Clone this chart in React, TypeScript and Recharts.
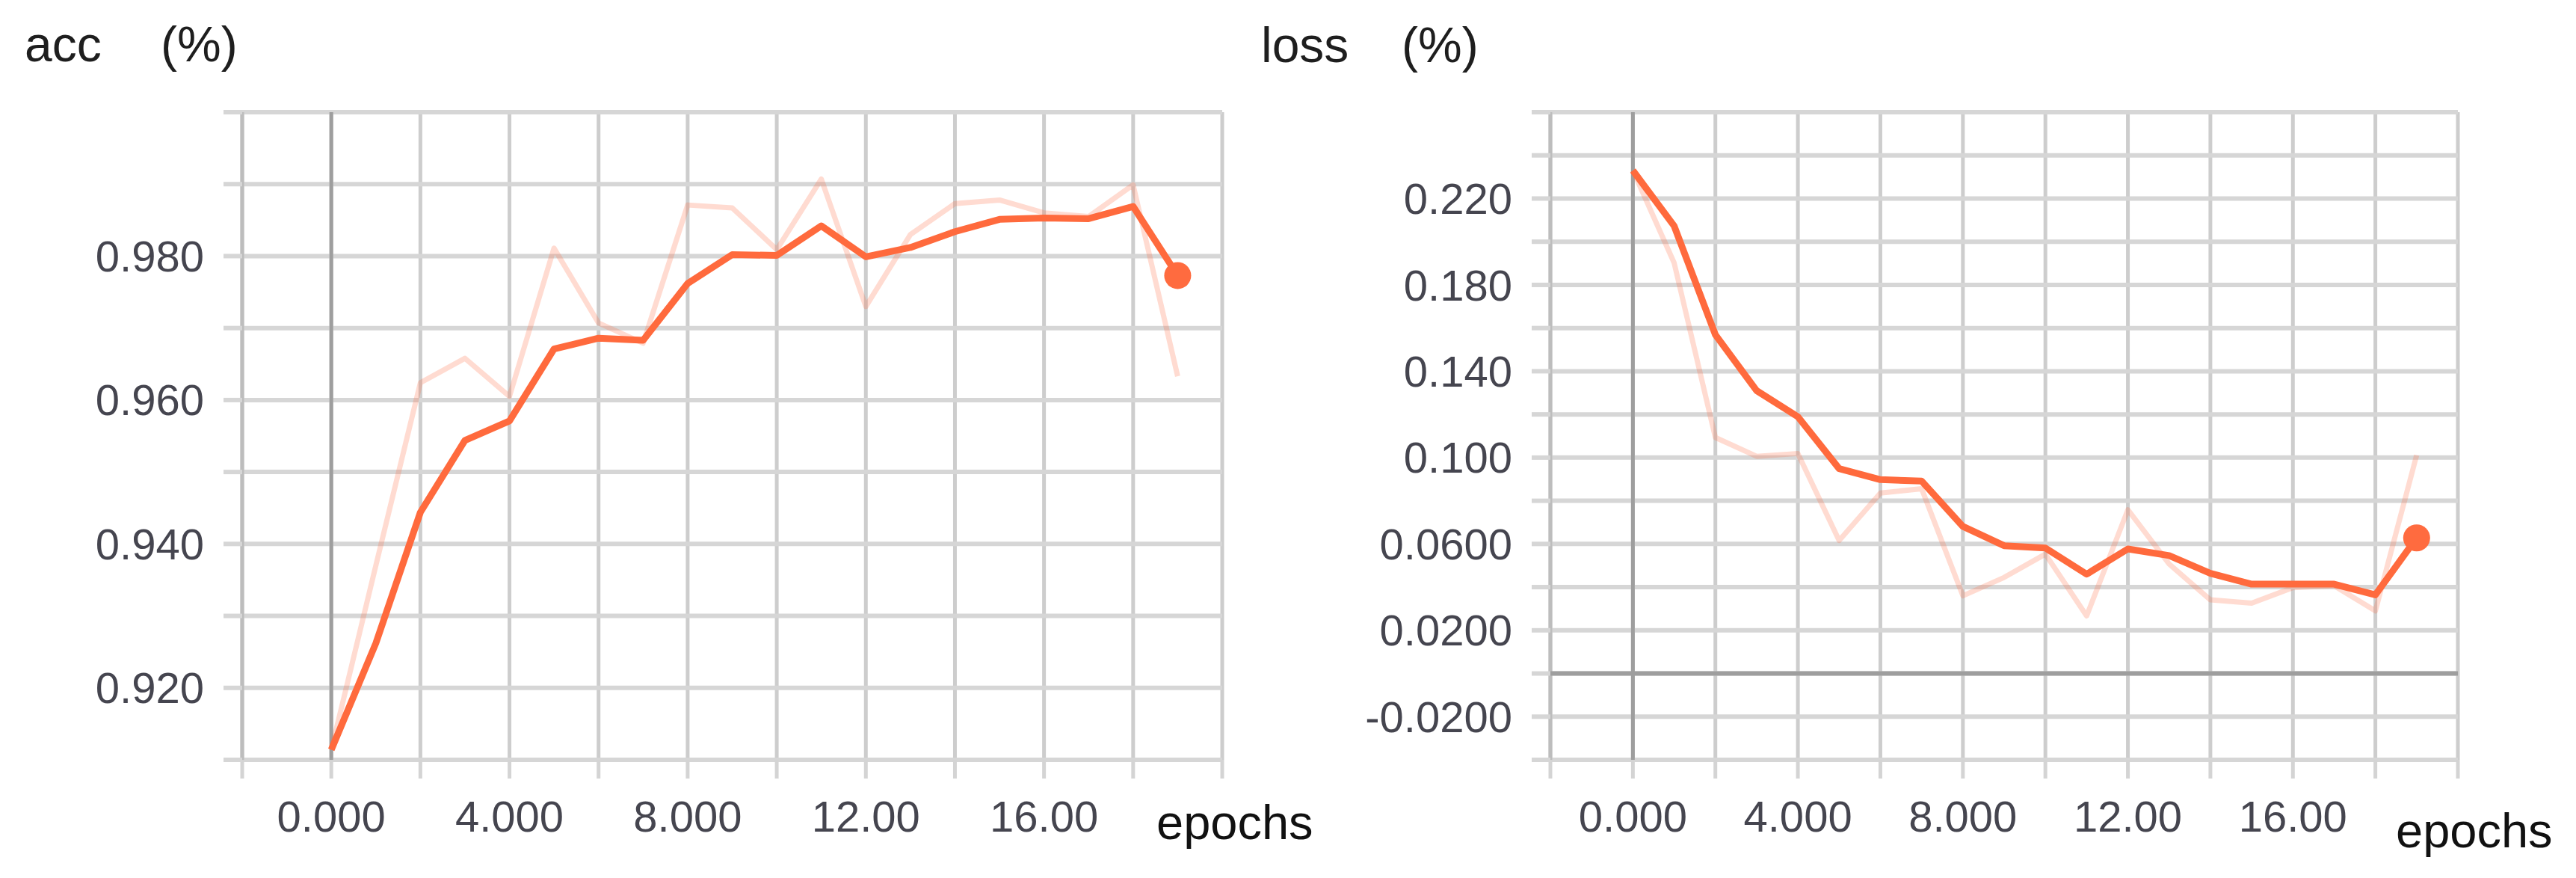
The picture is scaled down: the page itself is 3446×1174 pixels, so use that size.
import React from "react";
import { CartesianGrid, Line, LineChart, ReferenceLine, XAxis, YAxis } from "recharts";

// values
const epochs = [0, 1, 2, 3, 4, 5, 6, 7, 8, 9, 10, 11, 12, 13, 14, 15, 16, 17, 18, 19];

const accRaw = [0.9114, 0.937, 0.9624, 0.9658, 0.9605, 0.9811, 0.9707, 0.9679, 0.9871, 0.9867, 0.9809, 0.9907, 0.973, 0.983, 0.9873, 0.9878, 0.986, 0.9855, 0.9899, 0.9633];
const accSmooth = [0.9114, 0.9262, 0.9444, 0.9544, 0.9571, 0.9671, 0.9686, 0.9683, 0.9762, 0.9802, 0.9801, 0.9842, 0.9799, 0.9812, 0.9834, 0.9851, 0.9853, 0.9852, 0.9869, 0.9773];

const lossRaw = [0.233, 0.1902, 0.1093, 0.1006, 0.1019, 0.0616, 0.0836, 0.0856, 0.036, 0.0445, 0.0553, 0.0267, 0.0758, 0.0507, 0.0341, 0.0326, 0.0398, 0.0406, 0.029, 0.1011];
const lossSmooth = [0.233, 0.2073, 0.1569, 0.131, 0.1189, 0.0949, 0.0898, 0.0891, 0.0681, 0.0592, 0.0581, 0.046, 0.0577, 0.0546, 0.0464, 0.0414, 0.0414, 0.0414, 0.0364, 0.0628];

// axes
const epochTicks = [-2, 0, 2, 4, 6, 8, 10, 12, 14, 16, 18, 20];
const epochLabelValues = [0, 4, 8, 12, 16];
const epochLabels = ["0.000", "4.000", "8.000", "12.00", "16.00"];

const accTicks = [0.91, 0.92, 0.93, 0.94, 0.95, 0.96, 0.97, 0.98, 0.99, 1.0];
const accLabelValues = [0.92, 0.94, 0.96, 0.98];
const accLabels = ["0.920", "0.940", "0.960", "0.980"];

const lossTicks = [-0.04, -0.02, 0, 0.02, 0.04, 0.06, 0.08, 0.1, 0.12, 0.14, 0.16, 0.18, 0.2, 0.22, 0.24, 0.26];
const lossLabelValues = [-0.02, 0.02, 0.06, 0.1, 0.14, 0.18, 0.22];
const lossLabels = ["-0.0200", "0.0200", "0.0600", "0.100", "0.140", "0.180", "0.220"];

const accData = epochs.map((epoch, i) => ({ epoch, raw: accRaw[i], smooth: accSmooth[i] }));
const lossData = epochs.map((epoch, i) => ({ epoch, raw: lossRaw[i], smooth: lossSmooth[i] }));

const ORANGE = "#ff6a3d";
const FONT = "'Liberation Sans', Arial, sans-serif";

function labelFor(values: number[], labels: string[]) {
  return (v: number) => {
    const i = values.findIndex((x) => Math.abs(x - v) < 1e-9);
    return i >= 0 ? labels[i] : "";
  };
}

const tickStyle = { fontSize: 58, fill: "#45454f", fontFamily: FONT };

function lastDot(count: number) {
  return (props: any) => {
    const { cx, cy, index } = props;
    if (index !== count - 1) return <g key={`d-${index}`} />;
    return <circle key={`d-${index}`} cx={cx} cy={cy} r={18} fill="#ff6b3f" />;
  };
}

interface PanelProps {
  data: { epoch: number; raw: number; smooth: number }[];
  width: number;
  yWidth: number;
  right: number;
  yTicks: number[];
  yDomain: [number, number];
  yFormat: (v: number) => string;
  zeroY?: boolean;
}

function Panel({ data, width, yWidth, right, yTicks, yDomain, yFormat, zeroY }: PanelProps) {
  return (
    <LineChart width={width} height={1174} data={data} margin={{ top: 150, right, bottom: 0, left: 0 }}>
      <CartesianGrid horizontal={false} stroke="#cdcdcd" strokeWidth={5} />
      <CartesianGrid vertical={false} stroke="#d6d6d6" strokeWidth={6} />
      <XAxis
        type="number"
        dataKey="epoch"
        domain={[-2, 20]}
        ticks={epochTicks}
        interval={0}
        height={158}
        axisLine={false}
        tickLine={{ stroke: "#d4d4d4", strokeWidth: 5 }}
        tickSize={25}
        tickMargin={30}
        tick={tickStyle}
        tickFormatter={labelFor(epochLabelValues, epochLabels)}
      />
      <YAxis
        type="number"
        domain={yDomain}
        ticks={yTicks}
        interval={0}
        width={yWidth}
        axisLine={false}
        tickLine={{ stroke: "#d6d6d6", strokeWidth: 6 }}
        tickSize={25}
        tickMargin={26}
        tick={tickStyle}
        tickFormatter={yFormat}
      />
      <ReferenceLine x={-2} stroke="#bdbdbd" strokeWidth={5} />
      <ReferenceLine x={0} stroke="#9e9e9e" strokeWidth={5} />
      {zeroY && <ReferenceLine y={0} stroke="#9e9e9e" strokeWidth={6} />}
      <Line
        type="linear"
        dataKey="raw"
        stroke={ORANGE}
        strokeOpacity={0.24}
        strokeWidth={7}
        strokeLinejoin="round"
        dot={false}
        activeDot={false}
        isAnimationActive={false}
      />
      <Line
        type="linear"
        dataKey="smooth"
        stroke={ORANGE}
        strokeWidth={9}
        strokeLinejoin="round"
        dot={lastDot(data.length)}
        activeDot={false}
        isAnimationActive={false}
      />
    </LineChart>
  );
}

export default function App() {
  return (
    <div style={{ position: "absolute", left: 0, top: 0, width: 3446, height: 1174, background: "#fff", fontFamily: FONT }}>
      <div style={{ position: "absolute", left: 0, top: 0 }}>
        <Panel
          data={accData}
          width={1700}
          yWidth={324}
          right={65}
          yTicks={accTicks}
          yDomain={[0.91, 1.0]}
          yFormat={labelFor(accLabelValues, accLabels)}
        />
      </div>
      <div style={{ position: "absolute", left: 1700, top: 0 }}>
        <Panel
          data={lossData}
          width={1746}
          yWidth={374}
          right={158}
          yTicks={lossTicks}
          yDomain={[-0.04, 0.26]}
          yFormat={labelFor(lossLabelValues, lossLabels)}
          zeroY
        />
      </div>
      <svg width={3446} height={1174} style={{ position: "absolute", left: 0, top: 0, pointerEvents: "none" }}>
        <g fontFamily={FONT} fontSize={66} fill="#1e1e1e">
          <text x={33} y={82}>acc</text>
          <text x={215} y={82}>(%)</text>
          <text x={1687} y={83}>loss</text>
          <text x={1875} y={83}>(%)</text>
          <text x={1547} y={1122} fontSize={65} fill="#111">epochs</text>
          <text x={3205} y={1133} fontSize={65} fill="#111">epochs</text>
        </g>
      </svg>
    </div>
  );
}
